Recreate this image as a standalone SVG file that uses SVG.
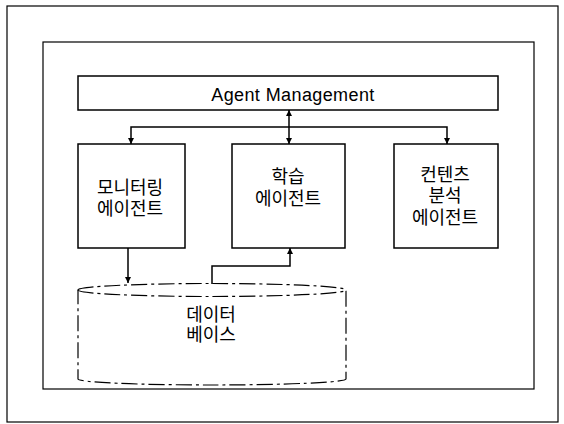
<svg xmlns="http://www.w3.org/2000/svg" width="564" height="424" viewBox="0 0 564 424">
<defs>
<marker id="ah" viewBox="0 0 10 10" refX="10" refY="5" markerWidth="6" markerHeight="7" markerUnits="userSpaceOnUse" orient="auto-start-reverse">
<path d="M0,0 L10,5 L0,10 z" fill="#000"/>
</marker>
<style>
.frame{fill:none;stroke:#000;stroke-width:1.2}
.box{fill:#fff;stroke:#000;stroke-width:1.5}
.dash{fill:#fff;stroke:#000;stroke-width:1.2;stroke-dasharray:16 4 3 4}
.ln{fill:none;stroke:#000;stroke-width:1.5}
text{font-family:"Liberation Sans","Noto Sans CJK KR",sans-serif;font-size:18px;fill:#000;text-anchor:middle;dominant-baseline:central}
.en{font-size:18px;letter-spacing:0.4px;dominant-baseline:alphabetic}
</style>
</defs>
<rect width="564" height="424" fill="#fff"/>
<rect class="frame" x="7" y="6" width="551" height="416"/>
<rect class="frame" x="43" y="42" width="491" height="347"/>
<g id="agent-management">
<rect class="box" x="78" y="76" width="420" height="34"/>
<text class="en" x="293" y="101">Agent Management</text>
</g>
<g id="monitoring-agent">
<rect class="box" x="78" y="144" width="107" height="104"/>
<text x="130" y="188">모니터링</text>
<text x="130" y="209">에이전트</text>
</g>
<g id="learning-agent">
<rect class="box" x="232" y="144" width="113" height="104"/>
<text x="288" y="177">학습</text>
<text x="288" y="199">에이전트</text>
</g>
<g id="content-agent">
<rect class="box" x="394" y="144" width="104" height="104"/>
<text x="445" y="175">컨텐츠</text>
<text x="445" y="196">분석</text>
<text x="445" y="218">에이전트</text>
</g>
<g id="database">
<path class="dash" d="M78,290 A134,6.5 0 0 1 346,290 L346,379 A134,6 0 0 1 78,379 Z"/>
<path class="dash" d="M78,290 A134,6.5 0 0 0 346,290" fill="none"/>
<text x="211" y="315">데이터</text>
<text x="211" y="335">베이스</text>
</g>
<g id="connectors">
<line class="ln" x1="289" y1="110" x2="289" y2="144" marker-start="url(#ah)" marker-end="url(#ah)"/>
<path class="ln" d="M131,144 L131,127 L447,127 L447,144" marker-start="url(#ah)" marker-end="url(#ah)"/>
<line class="ln" x1="128" y1="248" x2="128" y2="283" marker-end="url(#ah)"/>
<path class="ln" d="M212,284 L212,266 L290,266 L290,248" marker-end="url(#ah)"/>
</g>
</svg>
